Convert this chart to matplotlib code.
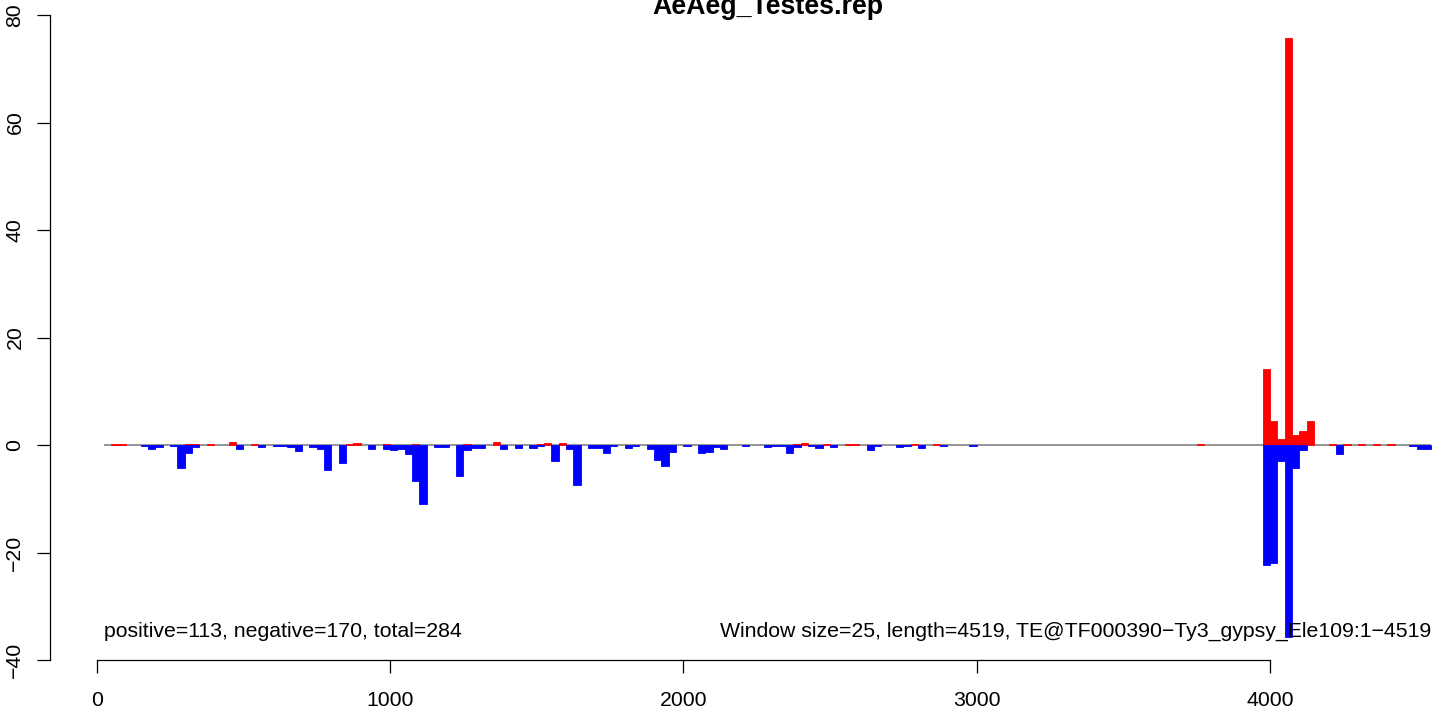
import matplotlib
matplotlib.use("Agg")
import matplotlib.pyplot as plt
import numpy as np

plt.rcParams['font.family'] = ['Liberation Sans', 'DejaVu Sans']

title = "AeAeg_Testes.rep"
window_size = 25
te_length = 4519
n_windows = 181

# non-zero windows (1-based window index) -> read values
pos_index = [2, 3, 12, 13, 15, 18, 21, 34, 35, 39, 43, 50, 54, 60, 61, 63,
             95, 96, 99, 102, 103, 111, 114, 150,
             159, 160, 161, 162, 163, 164, 165, 168, 170, 172, 174, 176]
pos_value = [0.15, 0.15, 0.2, 0.2, 0.2, 0.55, 0.2, 0.2, 0.4, 0.2, 0.2, 0.2, 0.55, 0.2, 0.4, 0.4,
             0.2, 0.4, 0.1, 0.1, 0.2, 0.1, 0.1, 0.1,
             14.2, 4.5, 1.1, 75.7, 1.9, 2.6, 4.5, 0.2, 0.1, 0.1, 0.1, 0.1]

neg_index = [6, 7, 8, 10, 11, 12, 13, 19, 22, 24, 25, 26, 27, 29, 30, 31, 33,
             37, 39, 40, 41, 42, 43, 44, 46, 47, 49, 50, 51, 52, 55, 57, 59, 60,
             62, 64, 65, 67, 68, 69, 70, 72, 73, 75, 76, 77, 78, 80, 82, 83, 84,
             85, 88, 91, 92, 93, 94, 95, 97, 98, 100, 105, 106, 109, 110, 112,
             115, 119, 159, 160, 161, 162, 163, 164, 169, 179, 180, 181]
neg_value = [-0.15, -0.75, -0.3, -0.25, -4.2, -1.4, -0.3, -0.75, -0.3, -0.2, -0.2, -0.3, -1.1, -0.3, -0.75, -4.65, -3.35,
             -0.75, -0.75, -0.95, -0.75, -1.7, -6.7, -11.0, -0.3, -0.3, -5.8, -0.95, -0.55, -0.55, -0.75, -0.55, -0.55, -0.2,
             -3.0, -0.75, -7.45, -0.55, -0.55, -1.5, -0.2, -0.55, -0.2, -0.75, -2.8, -3.9, -1.3, -0.2, -1.5, -1.3, -0.35,
             -0.75, -0.2, -0.35, -0.15, -0.15, -1.5, -0.35, -0.2, -0.55, -0.35, -0.95, -0.15, -0.35, -0.15, -0.55,
             -0.2, -0.2, -22.4, -21.9, -3.0, -35.7, -4.2, -0.9, -1.6, -0.2, -0.7, -0.7]

x_ticks = [0, 1000, 2000, 3000, 4000]
y_ticks = [-40, -20, 0, 20, 40, 60, 80]
left_note = "positive=113, negative=170, total=284"
right_note = "Window size=25, length=4519, TE@TF000390\u2212Ty3_gypsy_Ele109:1\u22124519"

FS = 15.3

W, H = 1444, 708
fig = plt.figure(figsize=(W / 100, H / 100), dpi=100)
# plot region in pixels: left 50, right 1485, bottom 660, top 14
ax = fig.add_axes([50 / W, (H - 660) / H, (1485 - 50) / W, (660 - 14) / H])
ax.set_xlim(-159.0, 4733.2)
ax.set_ylim(-40, 80.19)

starts = np.arange(1, n_windows + 1) * window_size
# baseline
ax.plot([starts[0], starts[-1] + window_size], [0, 0], color='#8c8c8c', lw=1.3, zorder=1,
        solid_capstyle='butt')

pos_x = np.array(pos_index) * window_size
neg_x = np.array(neg_index) * window_size
ax.bar(pos_x, pos_value, width=window_size, align='edge', color='#ff0000',
       edgecolor='#ff0000', linewidth=0.6, zorder=2)
ax.bar(neg_x, neg_value, width=window_size, align='edge', color='#0000ff',
       edgecolor='#0000ff', linewidth=0.6, zorder=2)

for s in ['top', 'right']:
    ax.spines[s].set_visible(False)
ax.spines['left'].set_bounds(-40, 80)
ax.spines['bottom'].set_bounds(0, 4000)
ax.spines['left'].set_linewidth(0.9)
ax.spines['bottom'].set_linewidth(0.9)

ax.set_xticks(x_ticks)
ax.set_xticklabels([str(v) for v in x_ticks], fontsize=FS)
ax.set_yticks(y_ticks)
ax.set_yticklabels([str(v).replace('-', '\u2212') for v in y_ticks], fontsize=FS,
                   rotation=90, va='center')
ax.tick_params(axis='x', length=9.4, width=0.9, pad=13.2, colors='black')
ax.tick_params(axis='y', length=9.4, width=0.9, pad=9.0, colors='black')

ax.text(window_size, -35.7, left_note, ha='left', va='baseline', fontsize=FS)
ax.text((n_windows + 1) * window_size, -35.7, right_note, ha='right', va='baseline', fontsize=FS)

fig.text(768 / W, 1 - 13.5 / H, title, ha='center', va='baseline', fontsize=19.3, fontweight='bold')

fig.savefig('out.png', dpi=100)
